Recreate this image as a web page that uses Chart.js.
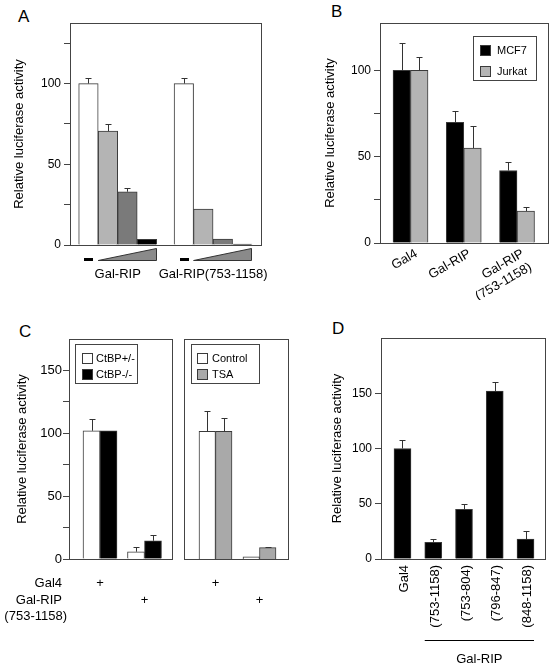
<!DOCTYPE html>
<html>
<head>
<meta charset="utf-8">
<script src="https://cdn.jsdelivr.net/npm/chart.js@4.4.1/dist/chart.umd.min.js"></script>
<style>
  html, body { margin:0; padding:0; background:#fff; }
  body { width:552px; height:666px; position:relative; overflow:hidden; }
  canvas { position:absolute; }
  .panel { position:absolute; font-family:"Liberation Sans", Arial, sans-serif; font-size:17px; line-height:1; color:#000; }
</style>
</head>
<body>
<div class="panel" style="left:18px;top:8px">A</div>
<div class="panel" style="left:331px;top:3px">B</div>
<div class="panel" style="left:19px;top:323px">C</div>
<div class="panel" style="left:332px;top:320px">D</div>
<canvas id="chartA" width="290" height="300" style="left:0;top:0"></canvas>
<canvas id="chartB" width="262" height="300" style="left:290px;top:0"></canvas>
<canvas id="chartC1" width="180" height="366" style="left:0;top:300px"></canvas>
<canvas id="chartC2" width="112" height="366" style="left:180px;top:300px"></canvas>
<canvas id="chartD" width="260" height="366" style="left:292px;top:300px"></canvas>
<script>
// ---------------- DATA ----------------
const yTitle = 'Relative luciferase activity';

// Panel A
const aCategories = ['Gal-RIP', 'Gal-RIP(753-1158)'];
const aSeriesLabels = ['Gal4 alone', 'dose 1', 'dose 2', 'dose 3'];
const aDose0 = [100, 100];
const aDose0Err = [3.5, 3.5];
const aDose1 = [70.5, 22.2];
const aDose1Err = [4.5, 0];
const aDose2 = [33, 3.7];
const aDose2Err = [2.6, 0];
const aDose3 = [3.5, 0.6];
const aDose3Err = [0, 0];
const aYTickLabels = [0, 50, 100];

// Panel B
const bCategories = ['Gal4', 'Gal-RIP', ['Gal-RIP', '(753-1158)']];
const bSeriesLabels = ['MCF7', 'Jurkat'];
const bMCF7 = [100, 70, 42];
const bMCF7Err = [16, 6.3, 5.2];
const bJurkat = [100, 55, 18.5];
const bJurkatErr = [8, 13, 2.5];
const bYTickLabels = [0, 50, 100];

// Panel C
const cRowLabels = ['Gal4', 'Gal-RIP', '(753-1158)'];
const cCategories = [['+', ''], ['', '+']];
const cLeftLabels = ['CtBP+/-', 'CtBP-/-'];
const cCtbpHet = [102, 5.8];
const cCtbpHetErr = [9, 3.5];
const cCtbpKO = [102, 14.5];
const cCtbpKOErr = [0, 4.2];
const cRightLabels = ['Control', 'TSA'];
const cControl = [101.5, 1.8];
const cControlErr = [16, 0];
const cTSA = [101.5, 9];
const cTSAErr = [11, 0.8];
const cYTickLabels = [0, 50, 100, 150];

// Panel D
const dCategories = ['Gal4', '(753-1158)', '(753-804)', '(796-847)', '(848-1158)'];
const dGroupLabel = 'Gal-RIP';
const dValues = [100, 15, 45, 152, 18];
const dErrors = [7.5, 3, 4.5, 8.5, 7.5];
const dYTickLabels = [0, 50, 100, 150];

// ---------------- STYLE ----------------
const FONT = '"Liberation Sans", Arial, Helvetica, sans-serif';
Chart.defaults.font.family = FONT;
Chart.defaults.color = '#000';
Chart.defaults.animation = false;
Chart.defaults.plugins.legend.display = false;
Chart.defaults.plugins.tooltip.enabled = false;

const AXIS = '#444';
const EDGE = '#3a3a3a';
const WHITE = '#ffffff', LIGHT = '#b4b4b4', DARK = '#7a7a7a', BLACK = '#000000', TSAGRAY = '#a9a9a9';

function yAxis(o) {
  return {
    min: 0, max: o.max,
    afterFit(s) { s.width = o.width; },
    border: { display: false },
    grid: { drawOnChartArea: false, drawTicks: true, tickLength: 6, lineWidth: 1,
      color: c => (c.tick && c.tick.value <= o.lastTick) ? AXIS : 'rgba(0,0,0,0)' },
    ticks: { stepSize: o.step, includeBounds: false, padding: o.tickPad, color: '#000',
      font: { size: o.tickFont },
      callback: v => o.labels.includes(v) ? String(v) : '' },
    title: { display: true, text: yTitle, color: '#000', font: { size: 13 },
      padding: { top: o.titlePad, bottom: 0 } }
  };
}
function xAxis(o) {
  return {
    afterFit(s) { s.height = o.height; },
    afterBuildTicks(s) {
      s._startValue = s.min - o.padL;
      s._valueRange = s.max - s.min + o.padL + o.padR;
    },
    border: { display: false },
    grid: { display: false, drawTicks: false },
    ticks: { autoSkip: false, padding: o.pad, minRotation: o.rot || 0, maxRotation: o.rot || 0,
      labelOffset: o.shift || 0,
      color: '#000', font: { size: 13, lineHeight: o.lh || 1.2 } }
  };
}
function bars(label, data, errors, color, thickness) {
  return { label, data, errors, backgroundColor: color, borderColor: EDGE, borderWidth: 1,
    barThickness: thickness, borderSkipped: 'start' };
}

// ---------------- PLUGINS ----------------
const framePlugin = {
  id: 'frame',
  afterDatasetsDraw(chart) {
    const a = chart.chartArea, ctx = chart.ctx;
    ctx.save(); ctx.strokeStyle = AXIS; ctx.lineWidth = 1;
    ctx.strokeRect(Math.round(a.left) + 0.5, Math.round(a.top) + 0.5,
      Math.round(a.right - a.left), Math.round(a.bottom - a.top));
    ctx.restore();
  }
};
const errorBarPlugin = {
  id: 'errorBars',
  afterDatasetsDraw(chart) {
    const ctx = chart.ctx, ys = chart.scales.y;
    ctx.save(); ctx.strokeStyle = '#333'; ctx.lineWidth = 1;
    chart.data.datasets.forEach((ds, i) => {
      if (!ds.errors) return;
      chart.getDatasetMeta(i).data.forEach((bar, j) => {
        const e = ds.errors[j];
        if (!e) return;
        const yTop = Math.round(ys.getPixelForValue(ds.data[j] + e)) + 0.5;
        const x = Math.round(bar.x) + 0.5;
        ctx.beginPath();
        ctx.moveTo(x, bar.y); ctx.lineTo(x, yTop);
        ctx.moveTo(x - 3, yTop); ctx.lineTo(x + 3, yTop);
        ctx.stroke();
      });
    });
    ctx.restore();
  }
};
const boxLegendPlugin = {
  id: 'boxLegend',
  afterDraw(chart, args, o) {
    if (!o || !o.show) return;
    const ctx = chart.ctx;
    ctx.save();
    ctx.fillStyle = '#fff';
    ctx.fillRect(o.x, o.y, o.w, o.h);
    ctx.strokeStyle = AXIS; ctx.lineWidth = 1;
    ctx.strokeRect(o.x + 0.5, o.y + 0.5, o.w, o.h);
    ctx.font = o.size + 'px ' + FONT;
    ctx.textBaseline = 'middle'; ctx.textAlign = 'left';
    chart.data.datasets.forEach((ds, i) => {
      const cy = Math.round(o.y + o.first + i * o.rowH);
      ctx.fillStyle = ds.backgroundColor;
      ctx.fillRect(o.sqX + 0.5, cy - o.sq / 2 + 0.5, o.sq, o.sq);
      ctx.strokeStyle = EDGE;
      ctx.strokeRect(o.sqX + 0.5, cy - o.sq / 2 + 0.5, o.sq, o.sq);
      ctx.fillStyle = '#000';
      ctx.fillText(ds.label, o.textX, cy + 1);
    });
    ctx.restore();
  }
};
const doseMarksPlugin = {
  id: 'doseMarks',
  afterDraw(chart) {
    const ctx = chart.ctx, b = Math.round(chart.chartArea.bottom);
    const m0 = chart.getDatasetMeta(0).data, m1 = chart.getDatasetMeta(1).data, m3 = chart.getDatasetMeta(3).data;
    ctx.save();
    m0.forEach((b0, j) => {
      ctx.fillStyle = '#000';
      ctx.fillRect(Math.round(b0.x - 4), b + 13, 9, 3);
      const L = m1[j].x - m1[j].width / 2, R = m3[j].x + m3[j].width / 2;
      ctx.beginPath();
      ctx.moveTo(L, b + 15.5); ctx.lineTo(Math.round(R) - 0.5, b + 3.5); ctx.lineTo(Math.round(R) - 0.5, b + 15.5);
      ctx.closePath();
      ctx.fillStyle = '#8a8a8a'; ctx.fill();
      ctx.strokeStyle = '#333'; ctx.lineWidth = 1; ctx.stroke();
    });
    ctx.restore();
  }
};
const rowLabelsPlugin = {
  id: 'rowLabels',
  afterDraw(chart, args, o) {
    if (!o || !o.show) return;
    const ctx = chart.ctx, b = chart.chartArea.bottom;
    ctx.save(); ctx.font = '13px ' + FONT; ctx.fillStyle = '#000';
    ctx.textBaseline = 'middle'; ctx.textAlign = 'right';
    cRowLabels.forEach((t, i) => ctx.fillText(t, o.x[i], b + o.dy[i]));
    ctx.restore();
  }
};
const bracketPlugin = {
  id: 'bracket',
  afterDraw(chart, args, o) {
    if (!o || !o.show) return;
    const els = chart.getDatasetMeta(0).data, b = chart.chartArea.bottom, ctx = chart.ctx;
    const L = els[o.from].x - els[o.from].width / 2, R = els[o.to].x + els[o.to].width / 2;
    const ly = Math.round(b + o.lineDy) + 0.5;
    ctx.save(); ctx.strokeStyle = '#000'; ctx.lineWidth = 1;
    ctx.beginPath(); ctx.moveTo(L, ly); ctx.lineTo(R, ly); ctx.stroke();
    ctx.font = '13px ' + FONT; ctx.textAlign = 'center'; ctx.textBaseline = 'middle'; ctx.fillStyle = '#000';
    ctx.fillText(dGroupLabel, (L + R) / 2, b + o.textDy);
    ctx.restore();
  }
};
const common = [framePlugin, errorBarPlugin, boxLegendPlugin, rowLabelsPlugin, bracketPlugin];

// ---------------- PANEL A ----------------
new Chart(document.getElementById('chartA'), {
  type: 'bar',
  data: {
    labels: aCategories,
    datasets: [
      bars(aSeriesLabels[0], aDose0, aDose0Err, WHITE, 19.5),
      bars(aSeriesLabels[1], aDose1, aDose1Err, LIGHT, 19.5),
      bars(aSeriesLabels[2], aDose2, aDose2Err, DARK, 19.5),
      bars(aSeriesLabels[3], aDose3, aDose3Err, BLACK, 19.5)
    ]
  },
  options: {
    responsive: false, devicePixelRatio: 1,
    layout: { padding: { top: 23, right: 2, left: 0, bottom: 0 } },
    scales: {
      x: xAxis({ height: 55, padL: 0.5, padR: 0.5, pad: 22 }),
      y: yAxis({ max: 137.5, step: 25, lastTick: 125, labels: aYTickLabels, width: 70, titlePad: 12, tickPad: 3, tickFont: 12 })
    }
  },
  plugins: [...common, doseMarksPlugin]
});

// ---------------- PANEL B ----------------
new Chart(document.getElementById('chartB'), {
  type: 'bar',
  data: {
    labels: bCategories,
    datasets: [
      bars(bSeriesLabels[0], bMCF7, bMCF7Err, BLACK, 17.5),
      bars(bSeriesLabels[1], bJurkat, bJurkatErr, LIGHT, 17.5)
    ]
  },
  options: {
    responsive: false, devicePixelRatio: 1,
    layout: { padding: { top: 23, right: 4, left: 0, bottom: 0 } },
    scales: {
      x: xAxis({ height: 57, padL: 0.573, padR: 0.582, pad: 3, rot: 30, shift: 6 }),
      y: yAxis({ max: 127.5, step: 25, lastTick: 100, labels: bYTickLabels, width: 90, titlePad: 33, tickPad: 3, tickFont: 12 })
    },
    plugins: { boxLegend: { show: true, x: 183, y: 36, w: 63, h: 44, first: 14, rowH: 21, sq: 10, sqX: 190, textX: 207, size: 11 } }
  },
  plugins: common
});

// ---------------- PANEL C (left) ----------------
new Chart(document.getElementById('chartC1'), {
  type: 'bar',
  data: {
    labels: cCategories,
    datasets: [
      bars(cLeftLabels[0], cCtbpHet, cCtbpHetErr, WHITE, 17),
      bars(cLeftLabels[1], cCtbpKO, cCtbpKOErr, BLACK, 17)
    ]
  },
  options: {
    responsive: false, devicePixelRatio: 1,
    layout: { padding: { top: 39, right: 8, left: 0, bottom: 0 } },
    scales: {
      x: xAxis({ height: 107, padL: 0.697, padR: 0.618, pad: 16, lh: 1.3 }),
      y: yAxis({ max: 175, step: 25, lastTick: 150, labels: cYTickLabels, width: 69, titlePad: 15, tickPad: 1, tickFont: 13 })
    },
    plugins: {
      boxLegend: { show: true, x: 75, y: 44, w: 62, h: 39, first: 14, rowH: 16, sq: 10, sqX: 82, textX: 96, size: 11 },
      rowLabels: { show: true, x: [62, 62, 67], dy: [24, 41, 57] }
    }
  },
  plugins: common
});

// ---------------- PANEL C (right) ----------------
new Chart(document.getElementById('chartC2'), {
  type: 'bar',
  data: {
    labels: cCategories,
    datasets: [
      bars(cRightLabels[0], cControl, cControlErr, WHITE, 16.5),
      bars(cRightLabels[1], cTSA, cTSAErr, TSAGRAY, 16.5)
    ]
  },
  options: {
    responsive: false, devicePixelRatio: 1,
    layout: { padding: { top: 39, right: 4, left: 4, bottom: 0 } },
    scales: {
      x: xAxis({ height: 107, padL: 0.716, padR: 0.648, pad: 16, lh: 1.3 }),
      y: { display: false, min: 0, max: 175 }
    },
    plugins: {
      boxLegend: { show: true, x: 11, y: 44, w: 68, h: 39, first: 14, rowH: 16, sq: 10, sqX: 17, textX: 32, size: 11 }
    }
  },
  plugins: common
});

// ---------------- PANEL D ----------------
new Chart(document.getElementById('chartD'), {
  type: 'bar',
  data: {
    labels: dCategories,
    datasets: [ bars('Relative luciferase activity', dValues, dErrors, BLACK, 17) ]
  },
  options: {
    responsive: false, devicePixelRatio: 1,
    layout: { padding: { top: 38, right: 7, left: 0, bottom: 0 } },
    scales: {
      x: xAxis({ height: 107, padL: 0.699, padR: 0.634, pad: 6, rot: 90, shift: 2 }),
      y: yAxis({ max: 200, step: 50, lastTick: 150, labels: dYTickLabels, width: 89, titlePad: 38, tickPad: 3, tickFont: 12 })
    },
    plugins: { bracket: { show: true, from: 1, to: 4, lineDy: 81, textDy: 100 } }
  },
  plugins: common
});
</script>
</body>
</html>
